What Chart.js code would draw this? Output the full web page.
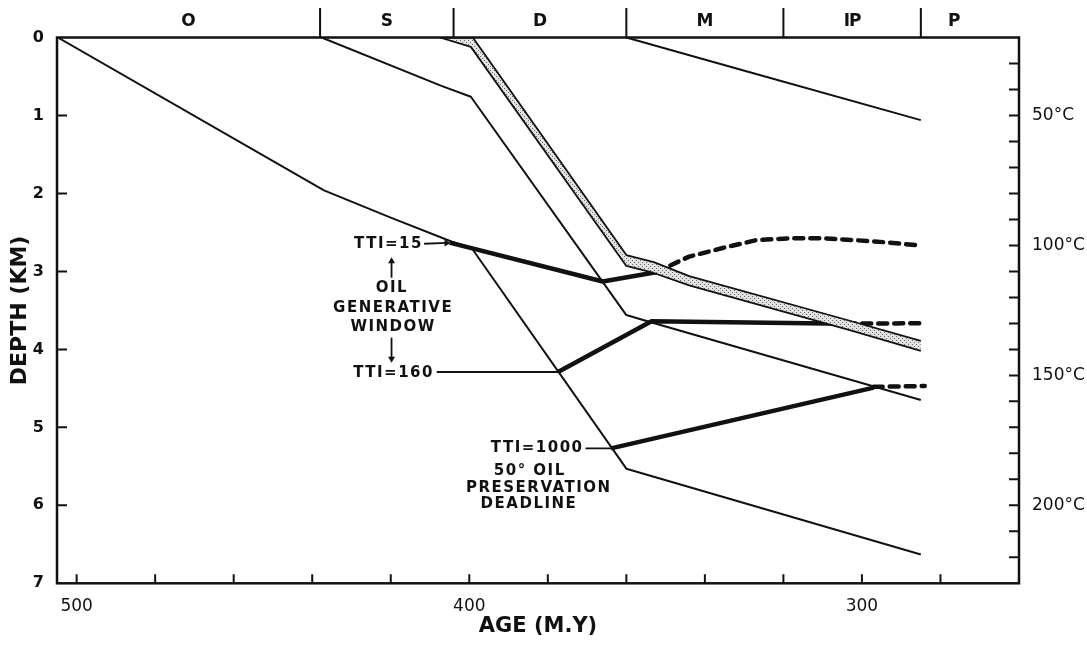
<!DOCTYPE html>
<html>
<head>
<meta charset="utf-8">
<title>Burial history</title>
<script src="https://cdn.jsdelivr.net/npm/chart.js@4.4.0/dist/chart.umd.min.js"></script>
<style>
  html, body { margin: 0; padding: 0; background: #fff; }
  #wrap { width: 1087px; height: 646px; }
</style>
</head>
<body>
<div id="wrap"><canvas id="chart" width="1087" height="646"></canvas></div>
<script>
// burial curves: age (m.y.) and depth (km)
const curveAAge = [504.8, 437, 420, 404.4, 399.4, 360, 285];
const curveADepth = [0, 1.96, 2.31, 2.62, 2.70, 5.53, 6.63];
const curveBAge = [437.6, 407.1, 399.6, 360, 355.3, 285];
const curveBDepth = [0, 0.62, 0.76, 3.56, 3.63, 4.65];
const bedTopAge = [407.5, 399.1, 360, 353, 344, 304, 285];
const bedTopDepth = [0, 0, 2.79, 2.88, 3.06, 3.62, 3.89];
const bedBaseAge = [407.5, 399.6, 360, 353, 344, 304, 285];
const bedBaseDepth = [0, 0.12, 2.93, 3.02, 3.18, 3.74, 4.02];
const curveDAge = [360, 329, 285];
const curveDDepth = [0, 0.44, 1.06];

// TTI isolines
const tti15Age = [405, 366, 352.5];
const tti15Depth = [2.63, 3.13, 3.01];
const tti15DashAge = [352.5, 344, 335.5, 327, 318.5, 310, 301.5, 293, 285];
const tti15DashDepth = [3.01, 2.81, 2.70, 2.60, 2.575, 2.575, 2.60, 2.63, 2.67];
const tti160Age = [377.4, 353.6, 304];
const tti160Depth = [4.29, 3.64, 3.67];
const tti160DashAge = [304, 285];
const tti160DashDepth = [3.67, 3.665];
const tti1000Age = [363.9, 297];
const tti1000Depth = [5.27, 4.49];
const tti1000DashAge = [297, 284];
const tti1000DashDepth = [4.48, 4.47];

// label pointers
const ptr15Age = [411.5, 405.8];
const ptr15Depth = [2.645, 2.635];
const ptr160Age = [408.3, 377.4];
const ptr160Depth = [4.29, 4.29];
const ptr1000Age = [370.4, 363.9];
const ptr1000Depth = [5.27, 5.27];
const upArrowAge = [419.8, 419.8];
const upArrowDepth = [3.08, 2.87];
const downArrowAge = [419.8, 419.8];
const downArrowDepth = [3.86, 4.12];

// geologic periods along the top
const periodEdges = [505, 438, 404, 360, 320, 285, 260];
const periodNames = ['O', 'S', 'D', 'M', 'IP', 'P'];
const periodLabelAges = [471.5, 421, 382, 340, 302.5, 276.5];

const notes = [
  { text: 'TTI=15', age: 411.8, depth: 2.65, align: 'right' },
  { text: 'OIL', age: 419.7, depth: 3.215 },
  { text: 'GENERATIVE', age: 419.4, depth: 3.47 },
  { text: 'WINDOW', age: 419.4, depth: 3.71 },
  { text: 'TTI=160', age: 409.0, depth: 4.305, align: 'right' },
  { text: 'TTI=1000', age: 370.9, depth: 5.27, align: 'right' },
  { text: '50° OIL', age: 384.6, depth: 5.56 },
  { text: 'PRESERVATION', age: 382.3, depth: 5.78 },
  { text: 'DEADLINE', age: 384.8, depth: 5.985 }
];

const INK = '#111';
Chart.defaults.font.family = '"DejaVu Sans", sans-serif';
Chart.defaults.color = INK;

function pts(ages, depths) {
  return ages.map((a, i) => ({ x: a, y: depths[i] }));
}

function line(ages, depths, width, dash) {
  return {
    data: pts(ages, depths),
    showLine: true,
    borderColor: INK,
    borderWidth: width,
    borderDash: dash || [],
    borderCapStyle: dash ? 'round' : 'butt',
    borderJoinStyle: 'round',
    pointRadius: 0,
    tension: 0,
    fill: false
  };
}

function arrow(ages, depths, rot) {
  const d = line(ages, depths, 1.8);
  d.pointRadius = [0, 4];
  d.pointStyle = 'triangle';
  d.pointRotation = rot;
  d.pointBackgroundColor = INK;
  d.pointBorderColor = INK;
  d.pointBorderWidth = 0;
  return d;
}

function stipple() {
  const c = document.createElement('canvas');
  c.width = 4; c.height = 4;
  const g = c.getContext('2d');
  g.fillStyle = '#e2e2e2';
  g.fillRect(0, 0, 4, 4);
  g.fillStyle = '#666';
  g.fillRect(0, 0, 1, 1);
  g.fillRect(2, 2, 1, 1);
  return document.getElementById('chart').getContext('2d').createPattern(c, 'repeat');
}

const bedBase = line(bedBaseAge, bedBaseDepth, 1.8);
bedBase.fill = '-1';
bedBase.backgroundColor = stipple();

const dash = [9, 7];

const decor = {
  id: 'decor',
  beforeDraw(chart) {
    const ctx = chart.ctx;
    ctx.save();
    ctx.fillStyle = '#fff';
    ctx.fillRect(0, 0, chart.width, chart.height);
    ctx.restore();
  },
  afterDatasetsDraw(chart) {
    const { ctx, scales: { x, y } } = chart;
    ctx.save();
    ctx.fillStyle = INK;
    ctx.font = 'bold 15px "DejaVu Sans"';
    ctx.letterSpacing = '1.5px';
    ctx.textBaseline = 'middle';
    notes.forEach(n => {
      ctx.textAlign = n.align || 'center';
      ctx.fillText(n.text, x.getPixelForValue(n.age), y.getPixelForValue(n.depth));
    });
    ctx.restore();
  },
  afterDraw(chart) {
    const { ctx, chartArea: a, scales: { x, y, y2 } } = chart;
    ctx.save();
    ctx.strokeStyle = INK;
    ctx.fillStyle = INK;
    // frame
    ctx.lineWidth = 2.5;
    ctx.strokeRect(a.left, a.top, a.right - a.left, a.bottom - a.top);
    // inward ticks
    ctx.lineWidth = 2;
    ctx.beginPath();
    x.ticks.forEach(t => {
      if (t.value % 20 !== 0 || t.value <= 260 || t.value >= 505) return;
      const px = x.getPixelForValue(t.value);
      ctx.moveTo(px, a.bottom);
      ctx.lineTo(px, a.bottom - 9);
    });
    y.ticks.forEach(t => {
      if (t.value <= 0 || t.value >= 7) return;
      const py = y.getPixelForValue(t.value);
      ctx.moveTo(a.left, py);
      ctx.lineTo(a.left + 10, py);
    });
    y2.ticks.forEach(t => {
      if (t.value <= 20 || t.value >= 230) return;
      const py = y2.getPixelForValue(t.value);
      ctx.moveTo(a.right, py);
      ctx.lineTo(a.right - 10, py);
    });
    // period boundaries above the frame
    periodEdges.slice(1, -1).forEach(v => {
      const px = x.getPixelForValue(v);
      ctx.moveTo(px, a.top);
      ctx.lineTo(px, 8);
    });
    ctx.stroke();
    ctx.font = 'bold 17px "DejaVu Sans"';
    ctx.textAlign = 'center';
    ctx.textBaseline = 'middle';
    periodNames.forEach((name, i) => {
      ctx.letterSpacing = name === 'IP' ? '-1px' : '0px';
      ctx.fillText(name, x.getPixelForValue(periodLabelAges[i]), 22);
    });
    ctx.restore();
  }
};

new Chart(document.getElementById('chart'), {
  type: 'scatter',
  data: {
    datasets: [
      line(bedTopAge, bedTopDepth, 1.8),
      bedBase,
      line(curveAAge, curveADepth, 2),
      line(curveBAge, curveBDepth, 2),
      line(curveDAge, curveDDepth, 2),
      line(tti15Age, tti15Depth, 4.5),
      line(tti15DashAge, tti15DashDepth, 4.5, dash),
      line(tti160Age, tti160Depth, 4.5),
      line(tti160DashAge, tti160DashDepth, 4.5, dash),
      line(tti1000Age, tti1000Depth, 4.5),
      line(tti1000DashAge, tti1000DashDepth, 4.5, dash),
      arrow(ptr15Age, ptr15Depth, 90),
      line(ptr160Age, ptr160Depth, 1.8),
      line(ptr1000Age, ptr1000Depth, 1.8),
      arrow(upArrowAge, upArrowDepth, 0),
      arrow(downArrowAge, downArrowDepth, 180)
    ]
  },
  options: {
    responsive: false,
    animation: false,
    devicePixelRatio: 1,
    layout: { padding: { top: 37.5, left: 0, right: 0, bottom: 0 } },
    plugins: {
      legend: { display: false },
      tooltip: { enabled: false }
    },
    scales: {
      x: {
        type: 'linear',
        position: 'bottom',
        min: 260,
        max: 505,
        reverse: true,
        grid: { display: false },
        border: { display: false },
        ticks: {
          stepSize: 20,
          autoSkip: false,
          maxRotation: 0,
          includeBounds: false,
          padding: 5,
          font: { size: 17 },
          callback: v => (v % 100 === 0 ? String(v) : '')
        },
        title: {
          display: true,
          text: 'AGE (M.Y)',
          font: { size: 21, weight: 'bold' },
          padding: { top: 0, bottom: 7 }
        },
        afterFit: s => { s.height = 62.7; }
      },
      y: {
        min: 0,
        max: 7,
        reverse: true,
        grid: { display: false },
        border: { display: false },
        ticks: { stepSize: 1, autoSkip: false, padding: 5, font: { size: 16, weight: 'bold' } },
        title: {
          display: true,
          text: 'DEPTH (KM)',
          font: { size: 22, weight: 'bold' },
          padding: { top: 7, bottom: 0 }
        },
        afterFit: s => { s.width = 57; }
      },
      y2: {
        axis: 'y',
        position: 'right',
        min: 20,
        max: 230,
        reverse: true,
        grid: { display: false },
        border: { display: false },
        ticks: {
          stepSize: 10,
          autoSkip: false,
          padding: 5,
          font: { size: 17 },
          callback: v => (v % 50 === 0 && v > 20 && v < 230 ? v + '°C' : '')
        },
        afterFit: s => { s.width = 68; }
      }
    }
  },
  plugins: [decor]
});
</script>
</body>
</html>
